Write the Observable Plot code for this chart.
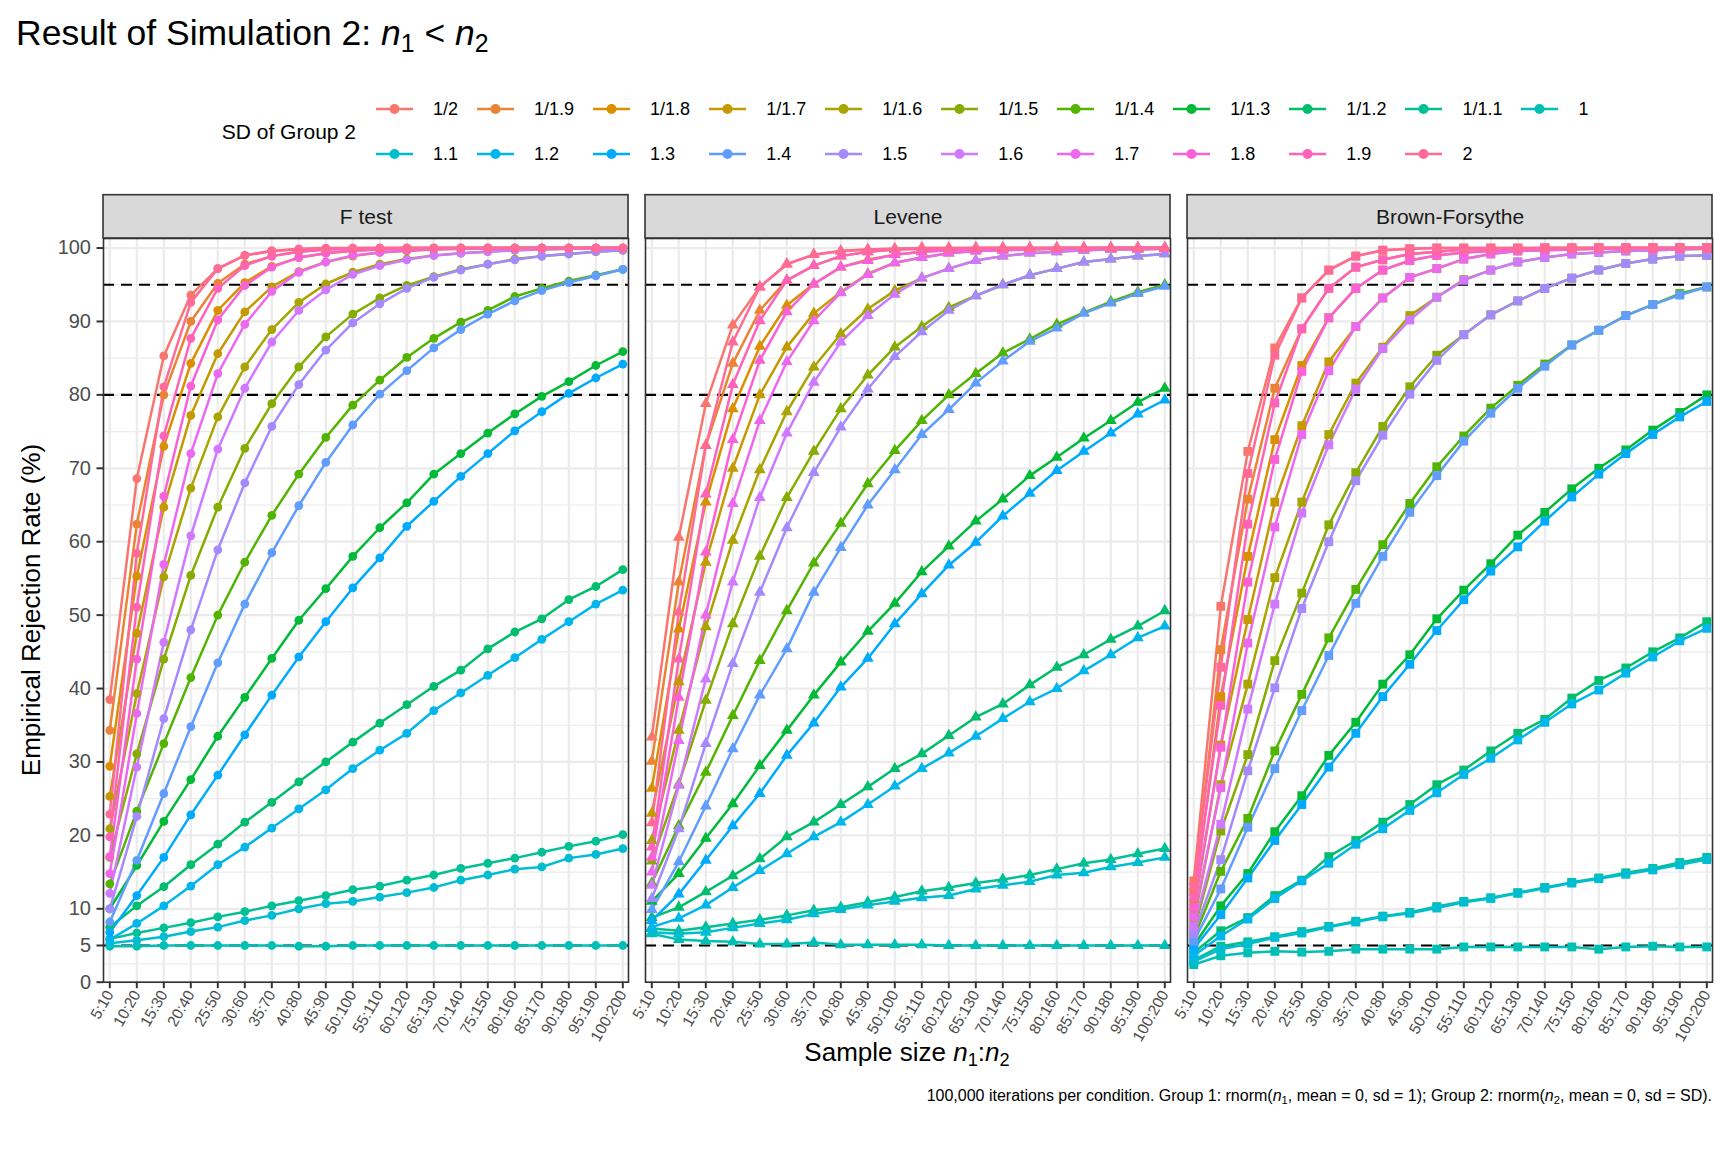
<!DOCTYPE html>
<html><head><meta charset="utf-8">
<script src="https://cdn.jsdelivr.net/npm/d3@7"></script>
<script src="https://cdn.jsdelivr.net/npm/@observablehq/plot@0.6"></script>
<style>
body{margin:0;background:#fff}
#fig{position:relative;width:1728px;height:1152px;font-family:"Liberation Sans",Arial,Helvetica,sans-serif;color:#000;overflow:hidden;background:#fff}
.abs{position:absolute;white-space:nowrap}
sub{font-size:0.7em;vertical-align:-0.28em;line-height:0}
</style></head><body><div id="fig"></div>
<script>
const categories = ["5:10","10:20","15:30","20:40","25:50","30:60","35:70","40:80","45:90","50:100","55:110","60:120","65:130","70:140","75:150","80:160","85:170","90:180","95:190","100:200"];
const sdLabels = ["1/2","1/1.9","1/1.8","1/1.7","1/1.6","1/1.5","1/1.4","1/1.3","1/1.2","1/1.1","1","1.1","1.2","1.3","1.4","1.5","1.6","1.7","1.8","1.9","2"];
const tests = ["F test","Levene","Brown-Forsythe"];
const yTicks = [0,5,10,20,30,40,50,60,70,80,90,100];
const yMinor = [2.5,7.5,15,25,35,45,55,65,75,85,95];
const refLines = [5,80,95];

// rows follow sdLabels order; columns follow categories order
const fTest = [
 [38.5,68.6,85.3,93.6,97.2,99.0,99.6,99.8,99.9,100,100,100,100,100,100,100,100,100,100,100],
 [34.3,62.4,80.0,90.0,95.2,97.8,98.9,99.5,99.8,99.9,99.9,100,100,100,100,100,100,100,100,100],
 [29.4,55.3,73.0,84.3,91.5,95.3,97.5,98.7,99.3,99.6,99.8,99.9,99.9,100,100,100,100,100,100,100],
 [25.3,47.5,64.7,77.2,85.6,91.3,94.7,96.8,98.1,98.9,99.4,99.6,99.8,99.9,99.9,100,100,100,100,100],
 [20.9,39.3,55.2,67.3,77.0,83.8,88.9,92.6,95.1,96.7,97.8,98.5,99.0,99.3,99.5,99.7,99.8,99.9,99.9,99.9],
 [17.0,31.1,44.0,55.4,64.7,72.7,78.8,83.8,87.9,91.0,93.2,94.9,96.1,97.1,97.8,98.5,98.9,99.2,99.5,99.7],
 [13.4,23.3,32.5,41.5,50.0,57.2,63.6,69.2,74.2,78.6,82.0,85.1,87.7,89.9,91.5,93.4,94.5,95.5,96.3,97.1],
 [10.0,15.9,21.9,27.6,33.5,38.8,44.1,49.3,53.6,58.0,61.9,65.3,69.2,72.0,74.8,77.4,79.8,81.8,84.0,85.9],
 [7.5,10.4,13.0,16.0,18.8,21.8,24.5,27.3,30.0,32.7,35.3,37.8,40.3,42.5,45.4,47.7,49.5,52.1,53.9,56.2],
 [5.9,6.7,7.4,8.1,8.9,9.6,10.4,11.1,11.8,12.6,13.1,13.9,14.6,15.5,16.2,16.9,17.7,18.5,19.2,20.1],
 [4.9,4.9,5.0,5.0,5.0,5.0,5.0,4.9,4.9,5.0,5.0,5.0,5.0,5.0,5.0,5.0,5.0,5.0,5.0,5.0],
 [5.3,5.7,6.2,6.9,7.5,8.4,9.1,10.0,10.7,11.0,11.6,12.2,12.9,13.9,14.6,15.4,15.7,16.9,17.4,18.2],
 [5.8,8.0,10.4,13.1,16.0,18.4,21.0,23.6,26.2,29.1,31.6,33.9,37.0,39.4,41.8,44.2,46.7,49.1,51.5,53.4],
 [6.8,11.8,17.0,22.8,28.2,33.7,39.1,44.3,49.1,53.7,57.8,62.1,65.5,68.9,72.0,75.1,77.7,80.2,82.3,84.2],
 [8.2,16.6,25.7,34.8,43.5,51.5,58.5,64.9,70.8,75.9,80.1,83.3,86.4,88.9,91.0,92.8,94.2,95.3,96.2,97.1],
 [10.0,22.6,35.9,48.0,58.9,68.0,75.7,81.4,86.1,89.8,92.4,94.5,96.0,97.0,97.8,98.4,98.9,99.2,99.5,99.7],
 [12.1,29.3,46.3,60.8,72.6,80.9,87.2,91.5,94.3,96.4,97.6,98.4,99.0,99.3,99.5,99.7,99.8,99.9,99.9,99.9],
 [14.8,36.6,56.9,72.0,82.9,89.6,94.1,96.7,98.1,99.0,99.4,99.7,99.8,99.9,99.9,100,100,100,100,100],
 [17.1,44.0,66.2,81.2,90.2,94.9,97.4,98.7,99.3,99.7,99.8,99.9,100,100,100,100,100,100,100,100],
 [19.8,51.1,74.4,87.7,94.5,97.6,98.9,99.5,99.8,99.9,100,100,100,100,100,100,100,100,100,100],
 [22.9,58.4,81.1,92.6,97.2,99.0,99.6,99.9,100,100,100,100,100,100,100,100,100,100,100,100]
];
const levene = [
 [33.4,60.6,78.8,89.5,94.7,97.8,99.1,99.6,99.8,99.9,100,100,100,100,100,100,100,100,100,100],
 [30.1,54.5,73.1,84.3,91.5,95.6,97.6,98.9,99.5,99.8,99.9,99.9,100,100,100,100,100,100,100,100],
 [26.4,48.1,65.4,78.1,86.6,92.2,95.1,97.4,98.4,99.1,99.5,99.7,99.8,99.9,99.9,100,100,100,100,100],
 [23.0,40.9,57.2,70.0,80.0,86.5,91.1,94.0,96.5,98.0,98.7,99.3,99.6,99.7,99.8,99.9,99.9,100,100,100],
 [19.3,34.3,48.4,60.2,69.8,77.7,83.8,88.3,91.7,94.2,95.9,97.2,98.3,98.9,99.3,99.5,99.7,99.8,99.8,99.9],
 [16.5,27.0,38.4,48.8,58.0,66.0,72.3,78.1,82.7,86.5,89.3,91.9,93.5,95.0,96.3,97.2,98.1,98.5,98.9,99.2],
 [13.5,21.3,28.6,36.3,43.8,50.6,57.1,62.5,67.9,72.4,76.5,80.0,82.9,85.7,87.6,89.6,91.2,92.7,94.0,95.0],
 [11.0,14.8,19.6,24.3,29.5,34.3,39.1,43.6,47.8,51.6,55.9,59.4,62.8,65.8,69.0,71.5,74.1,76.5,79.0,80.9],
 [8.8,10.2,12.3,14.5,16.8,19.8,21.8,24.2,26.6,29.1,31.1,33.6,36.1,37.9,40.5,42.9,44.6,46.7,48.5,50.6],
 [7.3,7.0,7.5,8.0,8.5,9.1,9.8,10.2,10.9,11.6,12.4,12.9,13.5,14.0,14.6,15.4,16.2,16.7,17.5,18.2],
 [6.6,5.8,5.6,5.5,5.2,5.2,5.4,5.1,5.1,5.1,5.1,5.0,5.0,5.0,5.0,5.0,5.0,5.0,5.0,5.0],
 [6.8,6.6,6.8,7.4,8.0,8.5,9.3,9.9,10.5,11.0,11.5,11.8,12.7,13.2,13.7,14.6,14.9,15.7,16.3,17.0],
 [7.5,8.7,10.5,12.9,15.2,17.5,19.8,21.8,24.2,26.7,29.1,31.2,33.5,35.9,38.2,40.0,42.4,44.6,46.9,48.5],
 [8.4,12.0,16.6,21.3,25.7,30.9,35.3,40.2,44.1,48.8,52.9,56.8,59.9,63.5,66.6,69.7,72.3,74.8,77.4,79.3],
 [9.9,16.4,24.0,31.8,39.1,45.4,53.1,59.2,65.0,69.8,74.6,78.0,81.6,84.6,87.3,89.1,91.1,92.5,93.8,94.8],
 [11.4,20.9,32.5,43.4,53.1,61.9,69.4,75.6,80.8,85.2,88.6,91.5,93.5,95.0,96.3,97.2,98.1,98.5,98.9,99.2],
 [13.2,26.8,41.3,54.5,66.0,74.8,81.7,87.2,90.8,93.7,95.9,97.2,98.3,98.9,99.3,99.5,99.7,99.8,99.8,99.9],
 [15.0,32.9,50.0,65.2,76.5,84.5,90.1,93.9,96.4,98.0,98.7,99.3,99.6,99.7,99.8,99.9,99.9,100,100,100],
 [17.0,38.8,58.6,73.9,84.7,91.3,95.1,97.4,98.3,99.1,99.5,99.7,99.8,99.9,99.9,100,100,100,100,100],
 [18.4,44.0,66.5,81.4,90.1,95.6,97.6,98.9,99.5,99.8,99.9,99.9,100,100,100,100,100,100,100,100],
 [21.7,50.4,73.1,87.2,94.7,97.8,99.1,99.6,99.8,99.9,100,100,100,100,100,100,100,100,100,100]
];
const brownForsythe = [
 [13.8,51.2,72.3,86.4,93.2,97.0,98.9,99.7,99.9,100,100,100,100,100,100,100,100,100,100,100],
 [12.3,45.3,65.8,80.9,89.0,94.5,97.4,98.4,99.2,99.5,99.8,99.9,99.9,100,100,100,100,100,100,100],
 [10.8,38.9,58.0,73.9,84.0,90.5,94.5,97.0,98.3,99.0,99.4,99.6,99.8,99.9,99.9,100,100,100,100,100],
 [9.5,32.3,49.4,65.4,75.8,84.5,89.3,93.2,96.0,97.2,98.5,99.2,99.6,99.7,99.8,99.9,99.9,99.9,100,100],
 [8.2,26.9,40.6,55.1,65.4,74.6,81.6,86.5,90.8,93.3,95.7,97.0,98.1,98.7,99.2,99.4,99.6,99.7,99.8,99.9],
 [7.0,20.6,31.0,43.8,53.0,62.3,69.4,75.7,81.1,85.4,88.2,90.9,92.8,94.5,95.9,97.0,97.9,98.5,98.9,99.0],
 [6.0,15.1,22.3,31.5,39.2,46.9,53.5,59.6,65.2,70.2,74.4,78.2,81.3,84.2,86.8,88.8,90.8,92.3,93.8,94.7],
 [5.0,10.4,14.8,20.5,25.4,30.9,35.4,40.6,44.6,49.5,53.4,57.0,60.9,64.0,67.2,70.0,72.5,75.2,77.6,80.0],
 [4.0,7.0,8.8,11.8,13.9,17.1,19.3,21.8,24.2,26.9,28.9,31.5,33.9,35.8,38.7,41.1,42.8,45.0,46.9,49.1],
 [3.0,4.9,5.5,6.2,6.9,7.6,8.3,9.0,9.5,10.3,11.0,11.5,12.2,12.9,13.6,14.2,14.9,15.5,16.3,17.0],
 [2.4,3.6,4.0,4.2,4.1,4.2,4.5,4.5,4.5,4.5,4.8,4.8,4.8,4.8,4.8,4.5,4.8,4.9,4.8,4.8],
 [2.8,4.5,5.2,6.1,6.7,7.5,8.2,8.9,9.4,10.1,10.9,11.4,12.1,12.8,13.5,14.1,14.7,15.3,16.0,16.7],
 [3.6,6.3,8.6,11.4,13.8,16.2,18.8,20.9,23.4,25.8,28.3,30.5,33.0,35.4,37.9,39.8,42.1,44.3,46.5,48.2],
 [4.6,9.2,14.2,19.3,24.2,29.3,33.9,38.9,43.3,47.9,52.1,56.0,59.3,62.8,66.1,69.2,72.0,74.6,77.0,79.1],
 [5.6,12.7,21.1,29.1,37.0,44.5,51.6,58.0,64.0,69.0,73.7,77.5,80.9,83.9,86.8,88.8,90.8,92.3,93.6,94.7],
 [6.6,16.7,28.8,40.1,50.9,60.0,68.3,74.5,80.1,84.7,88.2,90.9,92.8,94.5,95.9,97.0,97.9,98.5,98.9,99.0],
 [7.6,21.5,37.2,51.5,63.9,73.2,80.8,86.3,90.2,93.3,95.6,97.0,98.1,98.7,99.2,99.4,99.6,99.7,99.8,99.9],
 [8.9,26.5,46.2,62.0,74.6,83.3,89.3,93.2,96.0,97.2,98.5,99.2,99.6,99.7,99.8,99.9,99.9,99.9,100,100],
 [10.2,32.0,54.5,71.2,83.2,90.5,94.5,97.0,98.3,99.0,99.4,99.6,99.8,99.9,99.9,100,100,100,100,100],
 [11.6,37.7,62.4,78.9,89.0,94.5,97.4,98.4,99.2,99.5,99.8,99.9,99.9,100,100,100,100,100,100,100],
 [13.0,42.9,69.3,85.4,93.2,97.0,98.9,99.7,99.9,100,100,100,100,100,100,100,100,100,100,100]
];

// ggplot2 default hue palette (hcl, c = 100, l = 65)
function hcl2hex(h, c, l) {
  const hr = h * Math.PI / 180, U = c * Math.cos(hr), V = c * Math.sin(hr);
  const WY = 100, Wu = 0.1978398, Wv = 0.4683363;
  const Y = WY * (l > 7.999592 ? Math.pow((l + 16) / 116, 3) : l / 903.3);
  const u = U / (13 * l) + Wu, v = V / (13 * l) + Wv;
  const X = 9 * Y * u / (4 * v), Z = -X / 3 - 5 * Y + 3 * Y / v;
  const g = t => t > 0.00304 ? 1.055 * Math.pow(t, 1 / 2.4) - 0.055 : 12.92 * t;
  const to = t => Math.round(255 * Math.max(0, Math.min(1, g(t)))).toString(16).padStart(2, "0");
  return "#" + to((3.240479 * X - 1.537150 * Y - 0.498535 * Z) / WY)
             + to((-0.969256 * X + 1.875992 * Y + 0.041556 * Z) / WY)
             + to((0.055648 * X - 0.204043 * Y + 1.057311 * Z) / WY);
}
const palette = sdLabels.map((_, i) => hcl2hex(15 + i * 360 / sdLabels.length, 100, 65));
const colorOf = new Map(sdLabels.map((s, i) => [s, palette[i]]));

const rows = [];
[fTest, levene, brownForsythe].forEach((tbl, ti) =>
  tbl.forEach((vals, si) => vals.forEach((v, ci) =>
    rows.push({test: tests[ti], sd: sdLabels[si], size: categories[ci], value: v}))));

const FONT = '"Liberation Sans", Arial, Helvetica, sans-serif';
const dotOpts = {fx: "test", x: "size", y: "value", fill: "sd"};

const chart = Plot.plot({
  width: 1728, height: 1152,
  marginTop: 238, marginBottom: 170.3, marginLeft: 101.7, marginRight: 15.5,
  style: {fontFamily: FONT, background: "transparent", overflow: "visible"},
  fx: {domain: tests, paddingInner: 0.031, paddingOuter: 0, axis: null, label: null},
  x: {type: "point", domain: categories, padding: 0.2, label: null},
  y: {domain: [0, 101.3], label: null},
  color: {type: "ordinal", domain: sdLabels, range: palette},
  marks: [
    Plot.ruleY(yMinor, {stroke: "#ebebeb", strokeWidth: 1.1}),
    Plot.ruleY(yTicks, {stroke: "#ebebeb", strokeWidth: 2.2}),
    Plot.ruleX(categories, {x: d => d, stroke: "#ebebeb", strokeWidth: 2.2}),
    Plot.ruleY(refLines, {stroke: "#000", strokeWidth: 2.2, strokeDasharray: "11,7"}),
    Plot.line(rows, {fx: "test", x: "size", y: "value", z: "sd", stroke: "sd", strokeWidth: 2.5}),
    Plot.dot(rows.filter(d => d.test === tests[0]), {...dotOpts, symbol: "circle", r: 4.4}),
    Plot.dot(rows.filter(d => d.test === tests[1]), {...dotOpts, symbol: "triangle", r: 4.4}),
    Plot.dot(rows.filter(d => d.test === tests[2]), {...dotOpts, symbol: "square", r: 5.0}),
    Plot.frame({stroke: "#333333", strokeWidth: 1.6}),
    Plot.rect(tests, {fx: d => d, y1: 101.3, y2: 107.2, fill: "#d9d9d9", stroke: "#333333", strokeWidth: 1.6}),
    Plot.text(tests, {fx: d => d, y: 104.25, text: d => d, frameAnchor: "middle", fontSize: 21, fill: "#1a1a1a"}),
    Plot.axisX({tickRotate: -60, fontSize: 15.5, tickSize: 6.5, stroke: "#333333", strokeWidth: 2, fill: "#4d4d4d", label: null, tickPadding: 3}),
    Plot.axisY(yTicks, {tickSize: 6.5, fontSize: 20, stroke: "#333333", strokeWidth: 2, fill: "#4d4d4d", label: null, tickPadding: 6})
  ]
});

const fig = d3.select("#fig");
fig.node().appendChild(chart);
d3.select(chart).style("position", "absolute").style("left", "0px").style("top", "0px");

// title
fig.append("div").attr("class", "abs")
  .style("left", "16px").style("top", "15px").style("font-size", "35.5px").style("line-height", "36px")
  .html('Result of Simulation 2: <i>n</i><sub>1</sub> &lt; <i>n</i><sub>2</sub>');

// legend title
fig.append("div").attr("class", "abs")
  .style("right", (1728 - 356) + "px").style("top", (132 - 11) + "px").style("font-size", "21px").style("line-height", "22px")
  .text("SD of Group 2");

// legend keys
const legend = fig.append("div").attr("class", "abs")
  .style("left", "376px").style("top", "86.5px")
  .style("display", "grid").style("grid-template-columns", "repeat(11, auto)").style("grid-auto-rows", "45px");
sdLabels.forEach(s => {
  const cell = legend.append("div").style("display", "flex").style("align-items", "center").style("padding-right", "19px");
  const svg = cell.append("svg").attr("width", 37).attr("height", 20);
  svg.append("line").attr("x1", 0).attr("x2", 37).attr("y1", 10).attr("y2", 10)
    .attr("stroke", colorOf.get(s)).attr("stroke-width", 2.5);
  svg.append("circle").attr("cx", 18.5).attr("cy", 10).attr("r", 5).attr("fill", colorOf.get(s));
  cell.append("span").style("margin-left", "20px").style("font-size", "18px").style("line-height", "20px").text(s);
});

// axis titles
fig.append("div").attr("class", "abs")
  .style("left", "907px").style("top", "1039px").style("font-size", "26px").style("line-height", "26px")
  .style("transform", "translateX(-50%)")
  .html('Sample size <i>n</i><sub>1</sub>:<i>n</i><sub>2</sub>');
fig.append("div").attr("class", "abs")
  .style("left", "31px").style("top", "610px").style("font-size", "26px").style("line-height", "26px")
  .style("transform", "translate(-50%,-50%) rotate(-90deg)")
  .text("Empirical Rejection Rate (%)");

// caption
fig.append("div").attr("class", "abs")
  .style("right", "16px").style("top", "1088px").style("font-size", "16px").style("line-height", "16px")
  .html('100,000 iterations per condition. Group 1: rnorm(<i>n</i><sub>1</sub>, mean = 0, sd = 1); Group 2: rnorm(<i>n</i><sub>2</sub>, mean = 0, sd = SD).');
</script></body></html>
